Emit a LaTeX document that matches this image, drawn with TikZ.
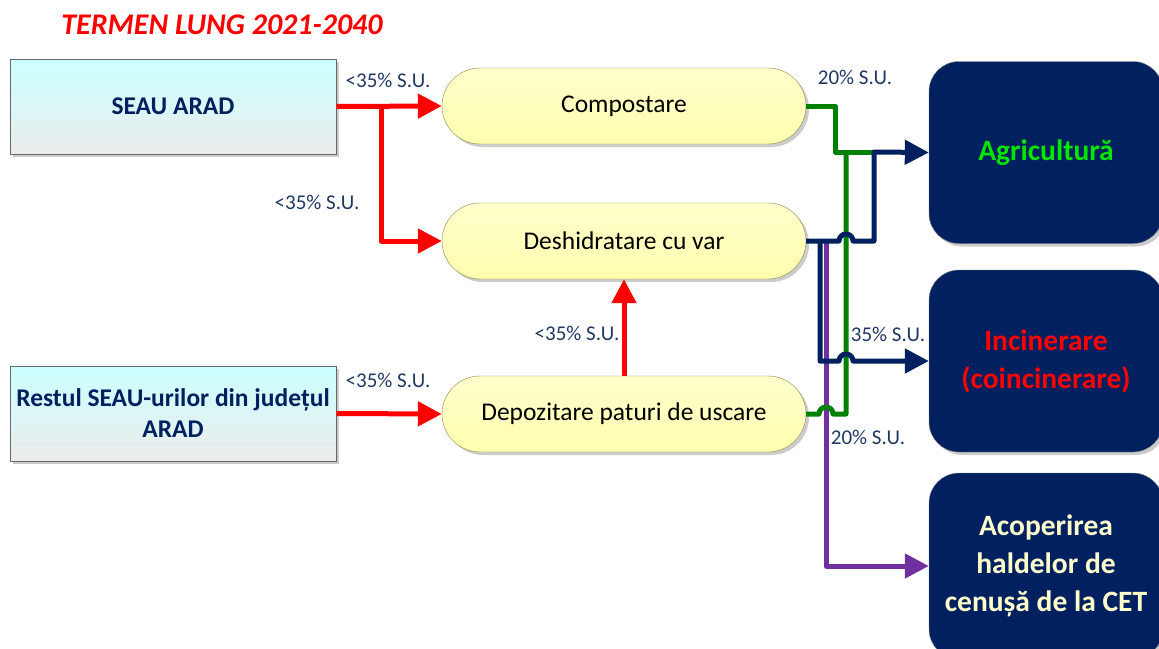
\documentclass[tikz,border=0pt]{standalone}
\usepackage{fontspec}
\setmainfont{Carlito}
\usepackage{tikz}
\usetikzlibrary{arrows.meta,shapes.misc,shadows}
\definecolor{navy}{HTML}{002060}
\definecolor{lbl}{HTML}{1F3864}
\definecolor{flowgreen}{HTML}{008000}
\definecolor{flowpurple}{HTML}{7030A0}
\definecolor{agrigreen}{HTML}{00E600}
\definecolor{paleyellow}{HTML}{FFFFCC}
\definecolor{paleyellow2}{HTML}{FFFFB0}

\begin{document}
\begin{tikzpicture}[x=1pt, y=-1pt,
  softshadow/.style={drop shadow={shadow xshift=3pt, shadow yshift=-3pt, opacity=0.2, fill=black}},
  src/.style={draw=gray!80!black, line width=1pt, top color=cyan!20, bottom color=gray!15, softshadow,
    minimum width=326pt, minimum height=95pt, inner sep=0pt, align=center, text=navy,
    font=\fontsize{25.5}{31}\selectfont\bfseries},
  proc/.style={draw=olive!50!gray, rounded rectangle, top color=paleyellow, bottom color=paleyellow2, softshadow,
    minimum width=364pt, minimum height=76pt, inner sep=0pt, font=\fontsize{25.5}{30}\selectfont},
  dest/.style={draw=gray, fill=navy, rounded corners=30pt, softshadow, minimum width=234pt,
    inner sep=0pt, align=center, font=\fontsize{29.5}{38}\selectfont\bfseries},
  flow/.style={line width=5pt, line join=round, -{Triangle[length=24pt,width=24pt]}},
  line/.style={line width=5pt, line join=round},
  lab/.style={text=lbl, font=\fontsize{21}{25}\selectfont}]
  \useasboundingbox (0,0) rectangle (1159,648);

  \node[text=red, font=\fontsize{30}{36}\selectfont\bfseries\itshape] (title) at (222,25) {TERMEN LUNG 2021-2040};

  % sources
  \node[src] (seau) at (173,106.5) {SEAU ARAD};
  \node[src] (rest) at (173,413.5) {Restul SEAU-urilor din județul\\ARAD};

  % treatments
  \node[proc] (comp) at (624,106) {Compostare};
  \node[proc] (desh) at (624,241) {Deshidratare cu var};
  \node[proc] (depo) at (624,414) {Depozitare paturi de uscare};

  % destinations
  \node[dest, minimum height=182pt, text=agrigreen] (agri) at (1046,152.5) {Agricultură};
  \node[dest, minimum height=182pt, text=red] (inc) at (1046,361) {Incinerare\\(coincinerare)};
  \node[dest, minimum height=186pt, text=paleyellow] (acop) at (1046,566) {Acoperirea\\haldelor de\\cenușă de la CET};

  % red flows
  \coordinate (rb) at (381,106);
  \draw[flow, red] (seau.east) -- (comp.west);
  \draw[flow, red] (rb) |- (desh.west);
  \draw[flow, red] (rest.east) -- (depo.west);
  \draw[flow, red] (depo.north) -- (desh.south);

  % purple to CET
  \coordinate (pj) at (826,243);
  \draw[flow, flowpurple] (pj) |- (acop.west);

  % green flows
  \coordinate (gm) at (874,152);
  \draw[line, flowgreen] (comp.east) -- (835,106) -- (835,152) -- (gm);
  \draw[line, flowgreen] (depo.east) -- (819,414) arc[start angle=180, end angle=0, radius=7pt]
    -- (846,414) -- (846,152);

  % navy flows
  \coordinate (nj) at (820,241);
  \draw[flow, navy] (desh.east) -- (839,241) arc[start angle=180, end angle=0, radius=7pt]
    -- (874,241) -- (gm) -- (agri.west);
  \draw[flow, navy] (nj) -- (820,361) -- (839,361) arc[start angle=180, end angle=0, radius=7pt]
    -- (inc.west);

  % labels
  \node[lab] (l1) at (388,80) {<35\% S.U.};
  \node[lab] (l2) at (317,202) {<35\% S.U.};
  \node[lab] (l3) at (388,380) {<35\% S.U.};
  \node[lab] (l4) at (577,333) {<35\% S.U.};
  \node[lab] (l5) at (855,77) {20\% S.U.};
  \node[lab] (l6) at (888,334) {35\% S.U.};
  \node[lab] (l7) at (868,437) {20\% S.U.};
\end{tikzpicture}
\end{document}
